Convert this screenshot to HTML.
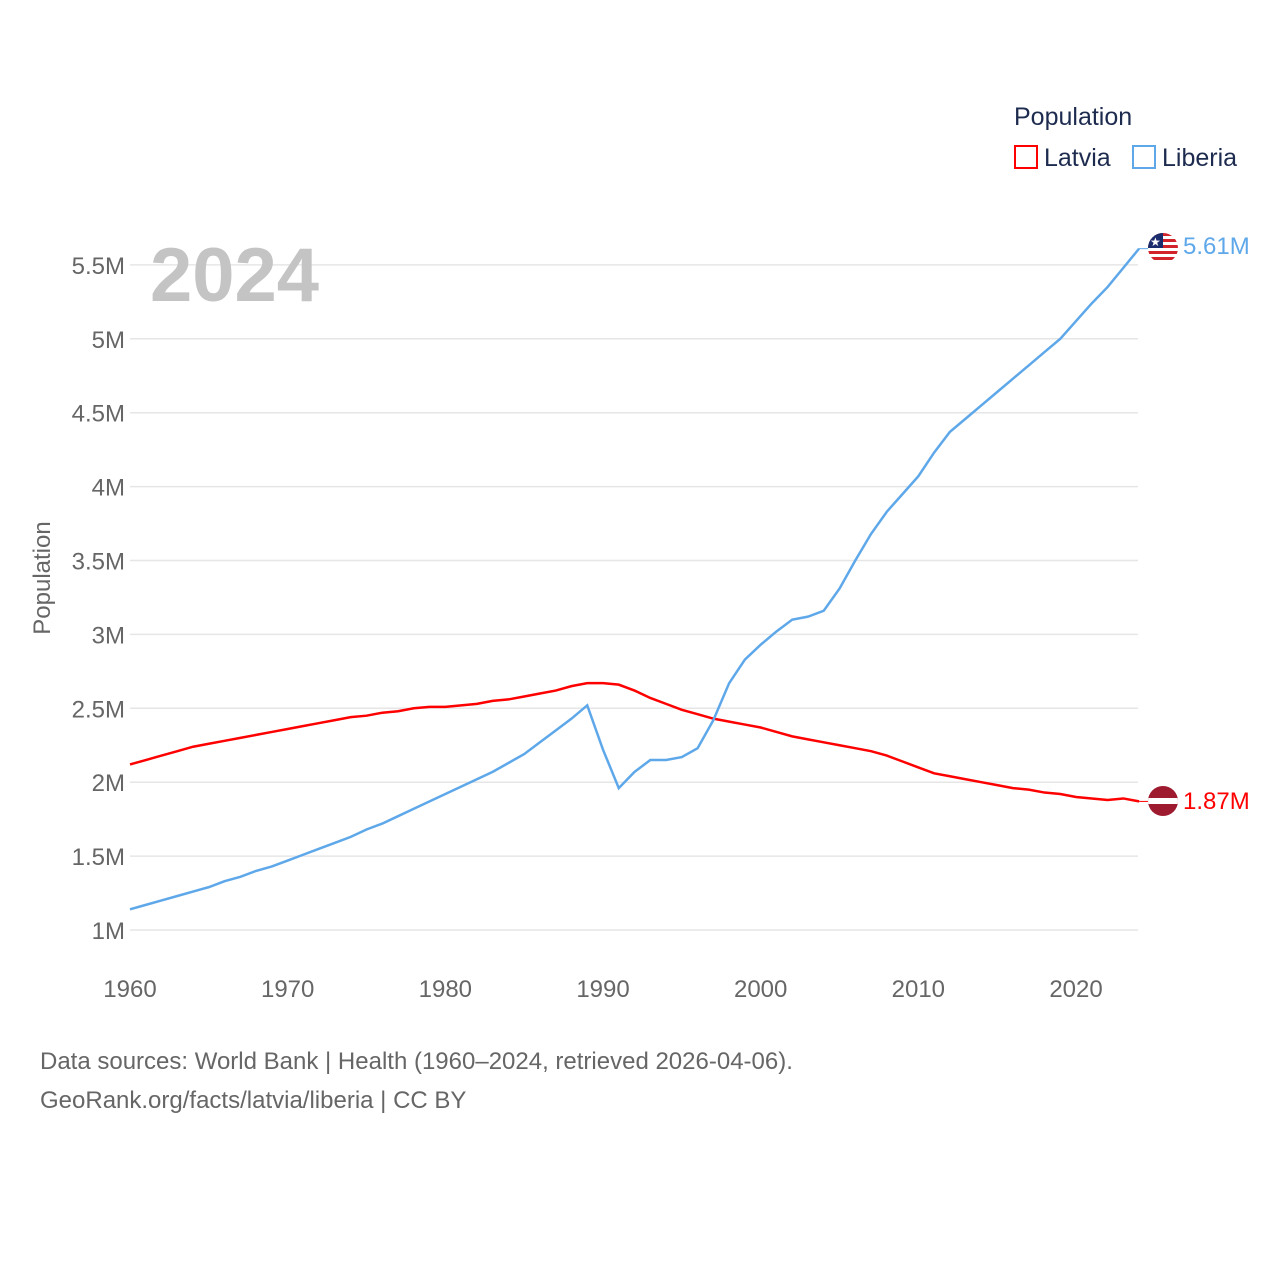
<!DOCTYPE html>
<html><head><meta charset="utf-8">
<style>
body{margin:0;background:#fff;font-family:"Liberation Sans",sans-serif;}
svg text{font-family:"Liberation Sans",sans-serif;}
</style></head>
<body>
<svg width="1280" height="1280" viewBox="0 0 1280 1280" xmlns="http://www.w3.org/2000/svg">
<rect width="1280" height="1280" fill="#fff"/>
<g id="grid"></g>
<g id="yticks"></g>
<g id="xticks"></g>
<text x="150" y="301" font-size="76" font-weight="bold" fill="#c4c4c4">2024</text>
<text transform="translate(50,578) rotate(-90)" text-anchor="middle" font-size="24" fill="#666">Population</text>
<g id="series"></g>
<g>
<text x="1014" y="125" font-size="25" fill="#1d2b4f">Population</text>
<g>
<rect x="1015" y="146" width="22" height="22" fill="none" stroke="#f00" stroke-width="2"/>
<text x="1044" y="166" font-size="25" fill="#1d2b4f">Latvia</text></g>
<g>
<rect x="1133" y="146" width="22" height="22" fill="none" stroke="#5ea8ea" stroke-width="2"/>
<text x="1162" y="166" font-size="25" fill="#1d2b4f">Liberia</text></g>
</g>
<g>
<clipPath id="cl"><circle cx="1163" cy="248" r="15"/></clipPath>
<g clip-path="url(#cl)">
<rect x="1148" y="233" width="30" height="30" fill="#fff"/>
<rect x="1148" y="233" width="30" height="3" fill="#d2232a"/>
<rect x="1148" y="239" width="30" height="3" fill="#d2232a"/>
<rect x="1148" y="245" width="30" height="3" fill="#d2232a"/>
<rect x="1148" y="251" width="30" height="3" fill="#d2232a"/>
<rect x="1148" y="257" width="30" height="3" fill="#d2232a"/>
<rect x="1148" y="233" width="15" height="15" fill="#1a2c6b"/>
<text x="1150" y="246" font-size="12" fill="#fff">★</text></g></g>
<g>
<clipPath id="cv"><circle cx="1163" cy="801" r="15"/></clipPath>
<g clip-path="url(#cv)">
<rect x="1148" y="786" width="30" height="30" fill="#9e1b2f"/>
<rect x="1148" y="798" width="30" height="6" fill="#fff"/></g></g>
<text x="1183" y="254" font-size="24" fill="#5ea8ea">5.61M</text>
<text x="1183" y="809" font-size="24" fill="#f00">1.87M</text>
<text x="40" y="1069" font-size="24" fill="#666">Data sources: World Bank | Health (1960–2024, retrieved 2026-04-06).</text>
<text x="40" y="1108" font-size="24" fill="#666">GeoRank.org/facts/latvia/liberia | CC BY</text>
</svg>
<script>
const years=[];for(let y=1960;y<=2024;y++)years.push(y);
const latvia=[2.12,2.15,2.18,2.21,2.24,2.26,2.28,2.30,2.32,2.34,2.36,2.38,2.40,2.42,2.44,2.45,2.47,2.48,2.50,2.51,2.51,2.52,2.53,2.55,2.56,2.58,2.60,2.62,2.65,2.67,2.67,2.66,2.62,2.57,2.53,2.49,2.46,2.43,2.41,2.39,2.37,2.34,2.31,2.29,2.27,2.25,2.23,2.21,2.18,2.14,2.10,2.06,2.04,2.02,2.00,1.98,1.96,1.95,1.93,1.92,1.90,1.89,1.88,1.89,1.87];
const liberia=[1.14,1.17,1.20,1.23,1.26,1.29,1.33,1.36,1.40,1.43,1.47,1.51,1.55,1.59,1.63,1.68,1.72,1.77,1.82,1.87,1.92,1.97,2.02,2.07,2.13,2.19,2.27,2.35,2.43,2.52,2.22,1.96,2.07,2.15,2.15,2.17,2.23,2.42,2.67,2.83,2.93,3.02,3.10,3.12,3.16,3.31,3.50,3.68,3.83,3.95,4.07,4.23,4.37,4.46,4.55,4.64,4.73,4.82,4.91,5.00,5.12,5.24,5.35,5.48,5.61];
const yTicks=[1,1.5,2,2.5,3,3.5,4,4.5,5,5.5];
const yTickLabels=["1M","1.5M","2M","2.5M","3M","3.5M","4M","4.5M","5M","5.5M"];
const xTicks=[1960,1970,1980,1990,2000,2010,2020];
const NS="http://www.w3.org/2000/svg";
const X=y=>130+(y-1960)*15.767;
const Y=v=>930-(v-1)*147.8;
const grid=document.getElementById('grid'),yt=document.getElementById('yticks'),xt=document.getElementById('xticks'),ser=document.getElementById('series');
yTicks.forEach((v,i)=>{
 const l=document.createElementNS(NS,'line');
 l.setAttribute('x1',130);l.setAttribute('x2',1138);l.setAttribute('y1',Y(v));l.setAttribute('y2',Y(v));
 l.setAttribute('stroke','#e6e6e6');l.setAttribute('stroke-width','1.5');
 
 
 grid.appendChild(l);
 const t=document.createElementNS(NS,'text');
 t.setAttribute('x',125);t.setAttribute('y',Y(v)+9);t.setAttribute('text-anchor','end');
 t.setAttribute('font-size','24');t.setAttribute('fill','#666');t.textContent=yTickLabels[i];
 
 
 yt.appendChild(t);
});
xTicks.forEach(v=>{
 const t=document.createElementNS(NS,'text');
 t.setAttribute('x',X(v));t.setAttribute('y',997);t.setAttribute('text-anchor','middle');
 t.setAttribute('font-size','24');t.setAttribute('fill','#666');t.textContent=v;
 
 
 xt.appendChild(t);
});
function line(vals,color,name){
 const p=document.createElementNS(NS,'polyline');
 p.setAttribute('points',vals.map((v,i)=>X(years[i])+','+Y(v)).join(' '));
 p.setAttribute('fill','none');p.setAttribute('stroke',color);p.setAttribute('stroke-width','2.5');
 
 
 ser.appendChild(p);
 const n=vals.length-1;
 const c=document.createElementNS(NS,'line');
 c.setAttribute('x1',X(years[n]));c.setAttribute('x2',1148);c.setAttribute('y1',Y(vals[n]));c.setAttribute('y2',Y(vals[n]));
 c.setAttribute('stroke',color);c.setAttribute('stroke-width','1');
 
 
 ser.appendChild(c);
}
line(latvia,'#f00','latvia-line');
line(liberia,'#5ea8ea','liberia-line');
</script>
</body></html>
